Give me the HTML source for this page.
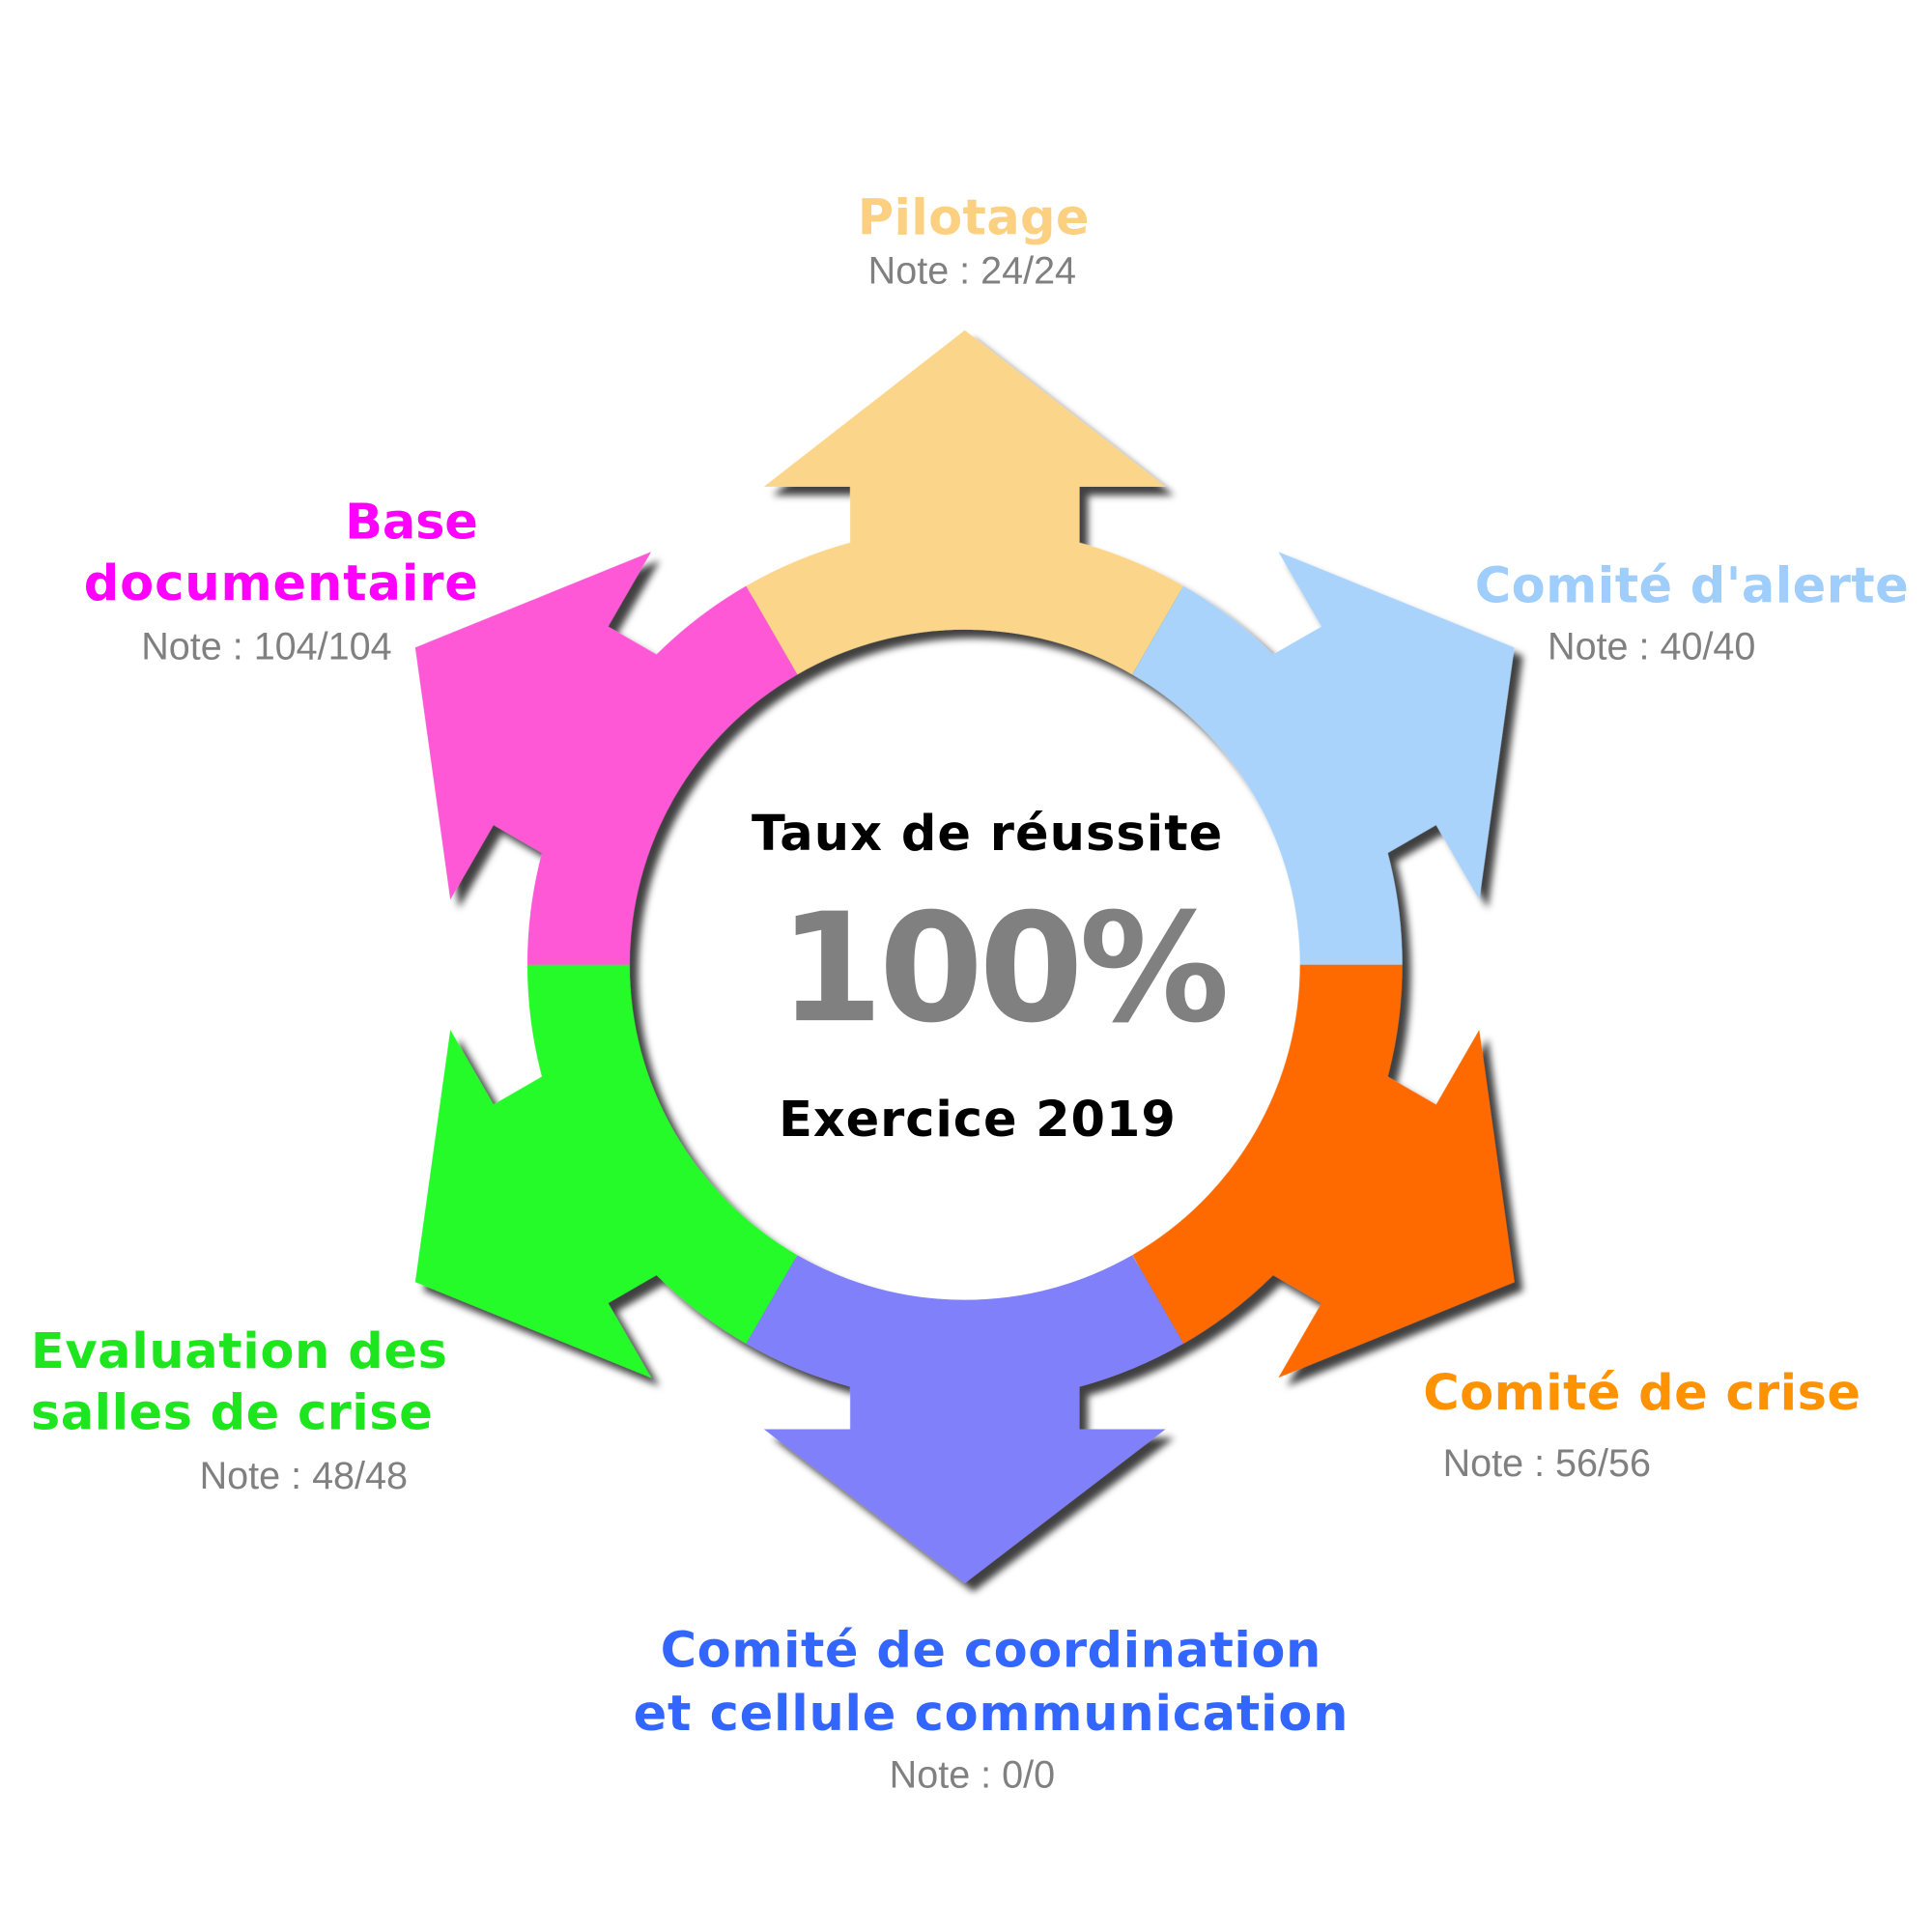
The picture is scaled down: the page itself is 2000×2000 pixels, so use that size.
<!DOCTYPE html>
<html><head><meta charset="utf-8"><style>html,body{margin:0;padding:0;background:#fff}svg{display:block}</style></head>
<body>
<svg width="2000" height="2000" viewBox="0 0 1568 1568" xmlns="http://www.w3.org/2000/svg">
<defs>
<filter id="sh" x="-30%" y="-30%" width="160%" height="160%">
<feDropShadow dx="7" dy="7" stdDeviation="3" flood-color="#000" flood-opacity="0.75"/>
</filter>
<path id="arr" d="M -136 -235.6 L -177.5 -307.4 A 355 355 0 0 1 -93 -342.6 L -93 -388 L -163 -388 L 0 -515 L 163 -388 L 93 -388 L 93 -342.6 A 355 355 0 0 1 177.5 -307.4 L 136 -235.6 A 272 272 0 0 0 -136 -235.6 Z"/>
<path id="arrb" d="M -136 -235.6 L -177.5 -307.4 A 355 355 0 0 1 -93 -342.6 L -93 -377 L -163 -377 L 0 -502 L 163 -377 L 93 -377 L 93 -342.6 A 355 355 0 0 1 177.5 -307.4 L 136 -235.6 A 272 272 0 0 0 -136 -235.6 Z"/>
</defs>
<g transform="translate(783,783)" filter="url(#sh)">
<use href="#arr" fill="#fbd58a" transform="rotate(0)"/>
<use href="#arr" fill="#aad3fb" transform="rotate(60)"/>
<use href="#arr" fill="#ff6a00" transform="rotate(120)"/>
<use href="#arrb" fill="#8080fa" transform="rotate(180)"/>
<use href="#arr" fill="#26fb2c" transform="rotate(240)"/>
<use href="#arr" fill="#ff58d6" transform="rotate(300)"/>
</g>
<g font-family="'DejaVu Sans', Verdana, sans-serif" font-weight="bold">
<text x="790" y="190" font-size="40" fill="#fbd080" text-anchor="middle" textLength="188">Pilotage</text>
<text x="1197" y="489" font-size="40" fill="#9fcdfc" textLength="352">Comité d'alerte</text>
<text x="388" y="437" font-size="40" fill="#ff00ff" text-anchor="end" textLength="108">Base</text>
<text x="388" y="487" font-size="40" fill="#ff00ff" text-anchor="end" textLength="320">documentaire</text>
<text x="25" y="1110" font-size="40" fill="#1ee61e" textLength="338">Evaluation des</text>
<text x="25" y="1160" font-size="40" fill="#1ee61e" textLength="326">salles de crise</text>
<text x="1155" y="1144" font-size="40" fill="#ff9200" textLength="355">Comité de crise</text>
<text x="804" y="1353" font-size="40" fill="#3366ff" text-anchor="middle" textLength="536">Comité de coordination</text>
<text x="804" y="1404" font-size="40" fill="#3366ff" text-anchor="middle" textLength="580">et cellule communication</text>
<text x="801" y="690" font-size="40" fill="#000" text-anchor="middle" textLength="382">Taux de réussite</text>
<text x="815" y="828" font-size="122" fill="#808080" text-anchor="middle" textLength="366">100%</text>
<text x="793" y="922" font-size="40" fill="#000" text-anchor="middle" textLength="322">Exercice 2019</text>
</g>
<g font-family="'Liberation Sans', Arial, sans-serif" font-size="31" fill="#808080">
<text x="789" y="230" text-anchor="middle">Note : 24/24</text>
<text x="1256" y="535">Note : 40/40</text>
<text x="318" y="535" text-anchor="end">Note : 104/104</text>
<text x="162" y="1208">Note : 48/48</text>
<text x="1171" y="1198">Note : 56/56</text>
<text x="789" y="1451" text-anchor="middle">Note : 0/0</text>
</g>
</svg>
</body></html>
